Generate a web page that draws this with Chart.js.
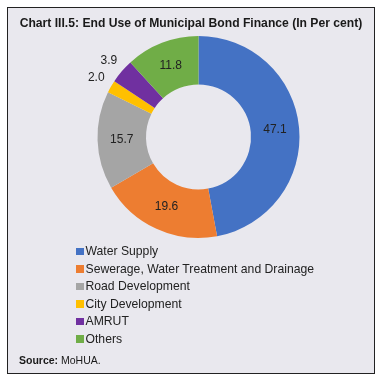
<!DOCTYPE html>
<html>
<head>
<meta charset="utf-8">
<script src="https://cdn.jsdelivr.net/npm/chart.js@4"></script>
<style>
  html, body { margin: 0; padding: 0; background: #fff; }
  body { width: 382px; height: 382px; position: relative; overflow: hidden; font-family: "Liberation Sans", Arial, sans-serif; }
  .frame { position: absolute; left: 7px; top: 7px; width: 366px; height: 365px; border: 1px solid #222; background: #e9e8ee; }
  #chart { position: absolute; left: 0; top: 0; }
  .title { position: absolute; left: 0; width: 382px; top: 16px; text-align: center; font-weight: bold; font-size: 12.15px; color: #1a1a1a; white-space: nowrap; }
  .legend { position: absolute; left: 76px; top: 243px; margin: 0; padding: 0; list-style: none; font-size: 12.2px; color: #222; }
  .legend li { height: 17.6px; line-height: 17.6px; white-space: nowrap; }
  .legend span { display: inline-block; width: 7.5px; height: 7.5px; margin-right: 2px; vertical-align: 0px; }
  .source { position: absolute; left: 19px; top: 354px; font-size: 10.5px; color: #1a1a1a; }
</style>
</head>
<body>
<div class="frame"></div>
<canvas id="chart" width="382" height="382"></canvas>
<div class="title">Chart III.5: End Use of Municipal Bond Finance (In Per cent)</div>
<ul class="legend" id="legend"></ul>
<div class="source"><b>Source:</b> MoHUA.</div>
<script>
/* =================================
  data
==================================== */
const categories = ['Water Supply', 'Sewerage, Water Treatment and Drainage', 'Road Development', 'City Development', 'AMRUT', 'Others'];
const shares = [47.1, 19.6, 15.7, 2.0, 3.9, 11.8];
const sliceColors = ['#4472C4', '#ED7D31', '#A5A5A5', '#FFC000', '#7030A0', '#70AD47'];

/* =================================
  legend
==================================== */
const legendUl = document.getElementById('legend');
categories.forEach((name, i) => {
    const li = document.createElement('li');
    li.innerHTML = `<span style="background:${sliceColors[i]}"></span>${name}`;
    legendUl.appendChild(li);
});

/* =================================
  value labels plugin
==================================== */
const valueLabels = {
    id: 'valueLabels',
    afterDatasetsDraw(chart) {
        const ctx = chart.ctx;
        const meta = chart.getDatasetMeta(0);
        ctx.save();
        ctx.font = '12px "Liberation Sans", Arial, sans-serif';
        ctx.fillStyle = '#222';
        ctx.textAlign = 'center';
        ctx.textBaseline = 'middle';
        meta.data.forEach((arc, i) => {
            const p = arc.getProps(['x', 'y', 'startAngle', 'endAngle', 'innerRadius', 'outerRadius'], true);
            const mid = (p.startAngle + p.endAngle) / 2;
            // small slices get their label outside the ring
            const r = shares[i] < 5 ? p.outerRadius + 17 : (p.innerRadius + p.outerRadius) / 2;
            ctx.fillText(shares[i].toFixed(1), p.x + Math.cos(mid) * r, p.y + Math.sin(mid) * r);
        });
        ctx.restore();
    }
};

/* =================================
  donut chart
==================================== */
new Chart(document.getElementById('chart'), {
    type: 'doughnut',
    data: {
        labels: categories,
        datasets: [{
            data: shares,
            backgroundColor: sliceColors,
            borderWidth: 0
        }]
    },
    options: {
        responsive: false,
        animation: false,
        cutout: '52%',
        layout: { padding: { left: 97, right: 82, top: 36, bottom: 144 } },
        plugins: {
            legend: { display: false },
            tooltip: { enabled: false }
        }
    },
    plugins: [valueLabels]
});
</script>
</body>
</html>
